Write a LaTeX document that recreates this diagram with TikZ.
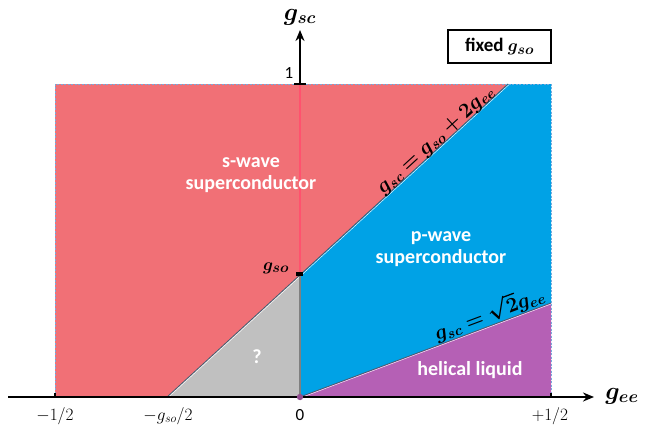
\documentclass[tikz,border=0pt]{standalone}
\usepackage{fontspec}
\setsansfont{Carlito}
\usepackage{amsmath,bm}
\usetikzlibrary{arrows.meta,calc}
\definecolor{cred}{RGB}{241,112,118}
\definecolor{cblue}{RGB}{0,162,230}
\definecolor{cpurp}{RGB}{181,96,181}
\definecolor{cgray}{RGB}{192,192,192}
\definecolor{cpink}{RGB}{255,82,110}
\definecolor{cdash}{RGB}{120,170,220}
\definecolor{cedge}{RGB}{70,90,110}
\tikzset{
  phase/.style={font=\sffamily\bfseries\fontsize{20}{22}\selectfont, text=white, align=center},
  ticklab/.style={font=\fontsize{17}{19}\selectfont, text=black},
  axislab/.style={font=\fontsize{23}{25}\selectfont},
  axisline/.style={line width=2.2pt, -{Stealth[length=11pt,width=9pt]}},
}
\begin{document}
\begin{tikzpicture}[x=1pt,y=-1pt]
\useasboundingbox (0,0) rectangle (647,431);
% key points
\coordinate (TL) at (55,84);
\coordinate (TR) at (551,84);
\coordinate (BL) at (55,397);
\coordinate (BR) at (551,397);
\coordinate (O) at (300,397);
\coordinate (G) at (300,275);
\coordinate (H) at (167,397);
\coordinate (U) at (508,84);
\coordinate (L) at (551,303);
\coordinate (T1) at (300,84);
% regions
\fill[cred] (TL) -- (U) -- (H) -- (BL) -- cycle;
\fill[cblue] (U) -- (TR) -- (L) -- (O) -- (G) -- cycle;
\fill[cgray] (H) -- (G) -- (O) -- cycle;
\fill[cpurp] (O) -- (L) -- (BR) -- cycle;
% boundaries
\draw[cedge, line width=0.8pt] (H) -- (U);
\draw[white, line width=0.4pt] ($(H)+(1,0.6)$) -- ($(U)+(1,0.6)$);
\draw[cedge, line width=0.8pt] (O) -- (L);
\draw[white, line width=0.4pt] ($(O)+(0,1)$) -- ($(L)+(0,1)$);
\draw[cpink, line width=1.8pt] (T1) -- (G);
\draw[gray, line width=2pt] (G) -- (O);
\draw[cdash, dashed, dash pattern=on 2pt off 1.5pt, line width=1pt] (BL) -- (TL) -- (TR) -- (BR);
% axes
\coordinate (XS) at (8,397);
\coordinate (XE) at (594,397);
\coordinate (YE) at (300,30);
\draw[axisline] (XS) -- (XE);
\draw[axisline] (T1) -- (YE);
\draw[line width=1.2pt] (55,393) -- (BL);
\draw[line width=1.2pt] (551,393) -- (BR);
\draw[line width=1.2pt] (294,84) -- (306,84);
\fill[black] (296,272) rectangle (303,276);
\fill[cpurp!80!black] (O) circle (3.2pt);
% axis labels
\node[axislab] (gee) at (622,396) {$\bm{g_{ee}}$};
\node[axislab] (gsc) at (300,17) {$\bm{g_{sc}}$};
% tick labels
\node[ticklab] (m12) at (55,416) {$-1/2$};
\node[ticklab] (mgso) at (168,416) {$-g_{so}/2$};
\node[ticklab, font=\sffamily\fontsize{17}{19}\selectfont] (zero) at (300,415) {0};
\node[ticklab] (p12) at (550,416) {$+1/2$};
\node[ticklab, font=\sffamily\fontsize{17}{19}\selectfont] (one) at (289,73) {1};
\node[font=\fontsize{19}{21}\selectfont] (gso) at (276,268) {$\bm{g_{so}}$};
% phases
\node[phase] (sw) at (251,175) {s-wave\\superconductor};
\node[phase] (pw) at (441,249) {p-wave\\superconductor};
\node[phase] (q) at (257,357) {?};
\node[phase] (hl) at (470,370) {helical liquid};
% line labels
\node[font=\fontsize{21}{23}\selectfont, rotate=42.5] (l1) at (436,140) {$\bm{g_{sc}=g_{so}+2g_{ee}}$};
\node[font=\fontsize{21}{23}\selectfont, rotate=20.5] (l2) at (489,313) {$\bm{g_{sc}=\sqrt{2}g_{ee}}$};
% fixed box
\node[draw=black, line width=1.3pt, minimum width=103pt, minimum height=33pt, font=\sffamily\bfseries\fontsize{19}{21}\selectfont] (fix) at (499.5,46.5) {fixed $\bm{g_{so}}$};
\end{tikzpicture}
\end{document}
